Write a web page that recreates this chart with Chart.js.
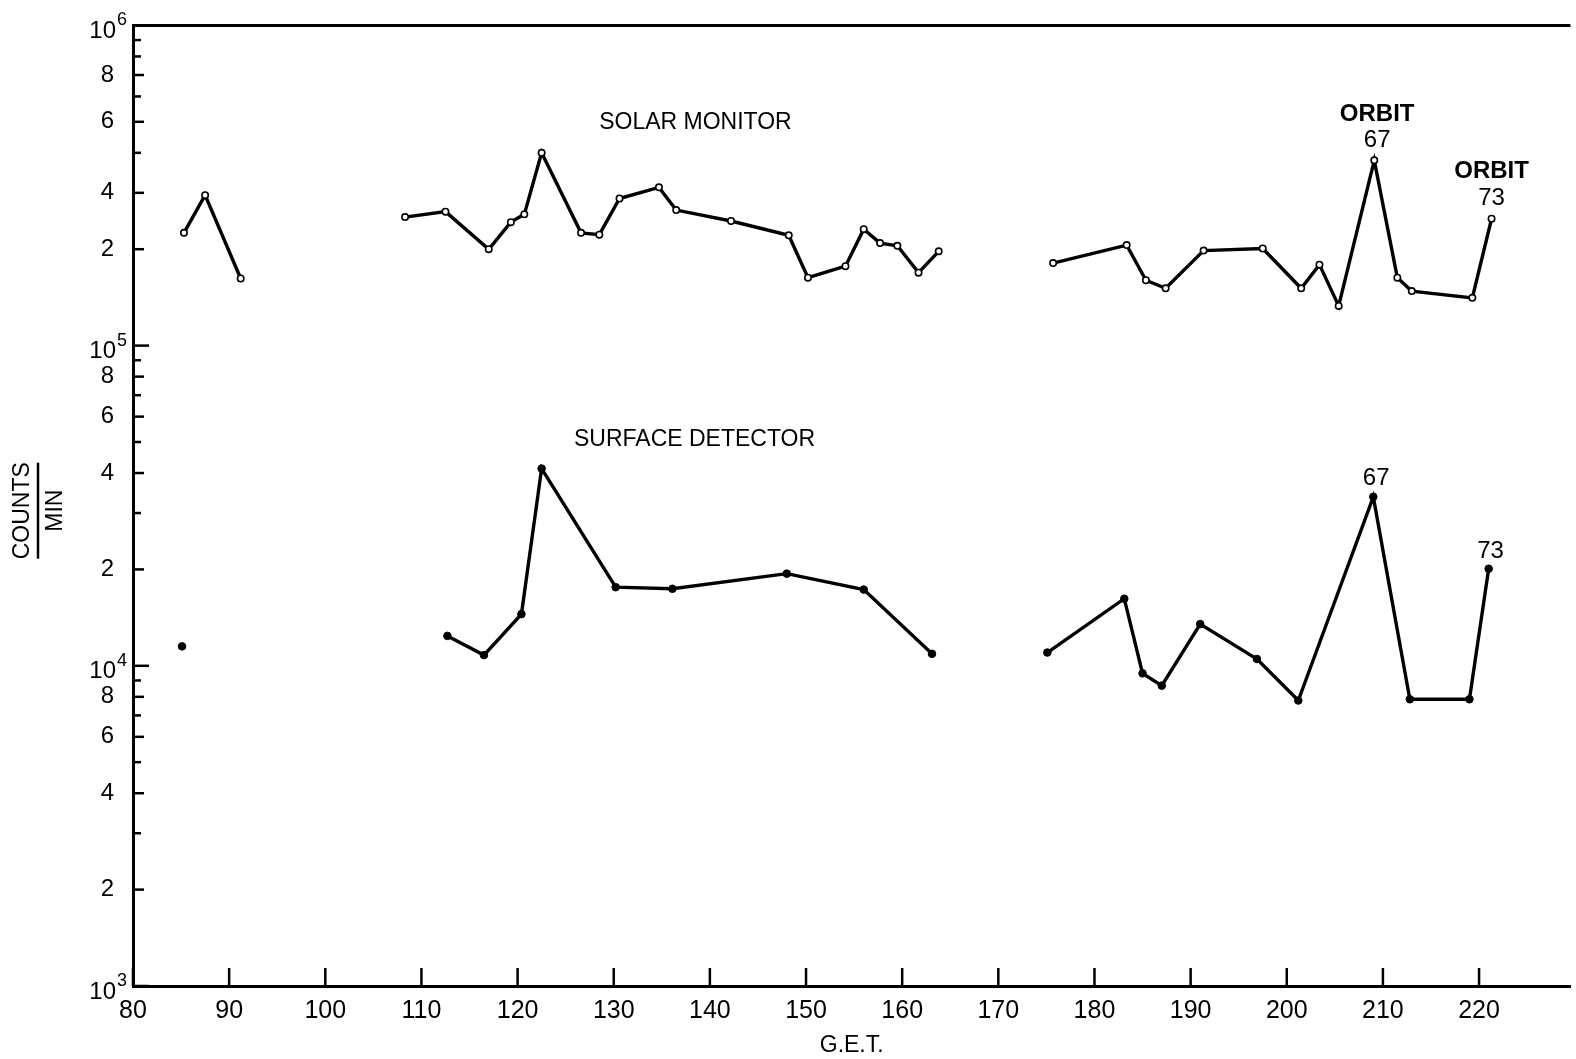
<!DOCTYPE html>
<html><head><meta charset="utf-8">
<script src="https://cdn.jsdelivr.net/npm/chart.js@4/dist/chart.umd.min.js"></script>
<style>html,body{margin:0;padding:0;background:#fff;overflow:hidden}</style>
</head><body>
<canvas id="c" width="1576" height="1059"></canvas>
<script>
// ---- data (G.E.T. hours, counts/min) ----
const solarX     = [85.3, 87.5, 91.2,
  108.3, 112.5, 117.0, 119.3, 120.7, 122.5, 126.6, 128.5, 130.6, 134.7, 136.5, 142.2, 148.2, 150.2, 154.1, 156.0, 157.7, 159.5, 161.7, 163.8,
  175.7, 183.35, 185.35, 187.4, 191.35, 197.5, 201.5, 203.4, 205.4, 209.1, 211.5, 213.0, 219.3, 221.3];
const solarY     = [2.25e5, 2.95e5, 1.62e5,
  2.52e5, 2.62e5, 2.0e5, 2.43e5, 2.57e5, 4.0e5, 2.25e5, 2.22e5, 2.88e5, 3.12e5, 2.65e5, 2.45e5, 2.21e5, 1.63e5, 1.77e5, 2.31e5, 2.09e5, 2.05e5, 1.69e5, 1.97e5,
  1.81e5, 2.06e5, 1.60e5, 1.51e5, 1.98e5, 2.01e5, 1.51e5, 1.79e5, 1.33e5, 3.79e5, 1.63e5, 1.48e5, 1.41e5, 2.49e5];
const solarGroup = [0,0,0,
  1,1,1,1,1,1,1,1,1,1,1,1,1,1,1,1,1,1,1,1,
  2,2,2,2,2,2,2,2,2,2,2,2,2,2];

const surfaceX     = [85.1,
  112.7, 116.5, 120.4, 122.5, 130.2, 136.1, 148.0, 156.0, 163.1,
  175.1, 183.1, 185.0, 187.0, 191.0, 196.9, 201.2, 209.0, 212.8, 219.0, 221.0];
const surfaceY     = [1.15e4,
  1.24e4, 1.08e4, 1.45e4, 4.13e4, 1.76e4, 1.74e4, 1.94e4, 1.73e4, 1.09e4,
  1.10e4, 1.62e4, 9.47e3, 8.67e3, 1.35e4, 1.05e4, 7.79e3, 3.37e4, 7.86e3, 7.86e3, 2.01e4];
const surfaceGroup = [0, 1,1,1,1,1,1,1,1,1, 2,2,2,2,2,2,2,2,2,2,2];

// ---- axes / tick labels ----
const xTickValues   = [80, 90, 100, 110, 120, 130, 140, 150, 160, 170, 180, 190, 200, 210, 220];
const yLabelValues  = [2e3, 4e3, 6e3, 8e3, 2e4, 4e4, 6e4, 8e4, 2e5, 3e5, 5e5, 7e5];
const yLabelTexts   = ['2','4','6','8','2','4','6','8','2','4','6','8'];
const yDecades      = [1e3, 1e4, 1e5, 1e6];
const yDecadeExps   = ['3', '4', '5', '6'];
const yMantissas    = [2, 3, 4, 5, 6, 7, 8, 9];

// ---- text notes (anchored in data units) ----
const notes = [
  {text:'SOLAR MONITOR',    x:138.5, y:4.96e5, size:23, bold:false},
  {text:'SURFACE DETECTOR', x:138.4, y:5.07e4, size:23, bold:false},
  {text:'ORBIT', x:209.4, y:5.29e5, size:24, bold:true},
  {text:'67',    x:209.4, y:4.36e5, size:24, bold:false},
  {text:'ORBIT', x:221.3, y:3.50e5, size:24, bold:true},
  {text:'73',    x:221.3, y:2.88e5, size:24, bold:false},
  {text:'67',    x:209.3, y:3.86e4, size:24, bold:false},
  {text:'73',    x:221.2, y:2.28e4, size:24, bold:false}
];

const FONT = '"Liberation Sans", Arial, sans-serif';
Chart.defaults.font.family = FONT;
Chart.defaults.color = '#000';

function buildSets(xs, ys, gs, style) {
  const groups = [...new Set(gs)];
  return groups.map(g => ({
    data: xs.map((x, i) => ({x, y: ys[i], g: gs[i]})).filter(p => p.g === g),
    ...style
  }));
}

const solarStyle = {borderColor:'#000', borderWidth:3.4, pointRadius:3.2, pointBackgroundColor:'#fff',
  pointBorderColor:'#000', pointBorderWidth:1.6, tension:0, showLine:true, fill:false};
const surfaceStyle = {borderColor:'#000', borderWidth:3.4, pointRadius:3.8, pointBackgroundColor:'#000',
  pointBorderColor:'#000', pointBorderWidth:1, tension:0, showLine:true, fill:false};

const datasets = [
  ...buildSets(solarX, solarY, solarGroup, solarStyle),
  ...buildSets(surfaceX, surfaceY, surfaceGroup, surfaceStyle)
];

const decor = {
  id: 'decor',
  afterDraw(chart) {
    const {ctx, chartArea: a} = chart;
    const xs = chart.scales.x, ys = chart.scales.y;
    ctx.save();
    ctx.strokeStyle = '#000';
    // top frame line
    ctx.lineWidth = 3;
    ctx.beginPath(); ctx.moveTo(a.left, a.top); ctx.lineTo(a.right, a.top); ctx.stroke();
    // y ticks (pointing inward)
    ctx.lineWidth = 2.5;
    yDecades.slice(0, 3).forEach(d => {
      yMantissas.forEach(m => {
        const v = d * m;
        const p = ys.getPixelForValue(v);
        const labeled = yLabelValues.includes(v);
        const len = labeled ? 11 : 8;
        ctx.beginPath(); ctx.moveTo(a.left, p); ctx.lineTo(a.left + len, p); ctx.stroke();
      });
    });
    yDecades.forEach(v => {
      const p = ys.getPixelForValue(v);
      ctx.beginPath(); ctx.moveTo(a.left, p); ctx.lineTo(a.left + 16, p); ctx.stroke();
    });
    // decade labels 10^n
    ctx.fillStyle = '#000';
    ctx.textBaseline = 'middle';
    yDecades.forEach((v, i) => {
      const p = ys.getPixelForValue(v);
      ctx.textAlign = 'right';
      ctx.font = '24px ' + FONT;
      ctx.fillText('10', a.left - 17, p + 6);
      ctx.textAlign = 'left';
      ctx.font = '18px ' + FONT;
      ctx.fillText(yDecadeExps[i], a.left - 16, p - 5);
    });
    // x ticks (pointing up)
    xTickValues.forEach(v => {
      const p = xs.getPixelForValue(v);
      ctx.beginPath(); ctx.moveTo(p, a.bottom); ctx.lineTo(p, a.bottom - 18); ctx.stroke();
    });
    // notes
    ctx.textAlign = 'center';
    notes.forEach(n => {
      ctx.font = (n.bold ? 'bold ' : '') + n.size + 'px ' + FONT;
      ctx.fillText(n.text, xs.getPixelForValue(n.x), ys.getPixelForValue(n.y));
    });
    // y axis title: COUNTS / MIN (rotated fraction)
    const cy = (a.top + a.bottom) / 2 + 5;
    ctx.translate(38, cy);
    ctx.rotate(-Math.PI / 2);
    ctx.font = '23px ' + FONT;
    ctx.fillText('COUNTS', 0, -15);
    ctx.fillText('MIN', 0, 18);
    ctx.lineWidth = 2.5;
    ctx.beginPath(); ctx.moveTo(-48, 0); ctx.lineTo(48, 0); ctx.stroke();
    ctx.restore();
  }
};

new Chart(document.getElementById('c'), {
  type: 'line',
  data: {datasets},
  options: {
    responsive: false,
    animation: false,
    devicePixelRatio: 1,
    layout: {padding: {top: 20, right: 0, left: 0, bottom: 0}},
    plugins: {legend: {display: false}, tooltip: {enabled: false}},
    scales: {
      x: {
        type: 'linear', min: 80, max: 229.5,
        grid: {display: false},
        border: {display: true, color: '#000', width: 3},
        afterBuildTicks: s => { s.ticks = xTickValues.map(v => ({value: v})); },
        afterFit: s => { s.height = 73; },
        ticks: {autoSkip: false, maxRotation: 0, padding: 2, font: {size: 25},
          callback: v => String(v)},
        title: {display: true, text: 'G.E.T.', font: {size: 23}, padding: {top: 0, bottom: 0}}
      },
      y: {
        type: 'logarithmic', min: 1e3, max: 1e6,
        grid: {display: false},
        border: {display: true, color: '#000', width: 3},
        afterBuildTicks: s => { s.ticks = yLabelValues.map(v => ({value: v})); },
        afterFit: s => { s.width = 133; },
        ticks: {autoSkip: false, padding: 11, font: {size: 24},
          callback: (v, i) => yLabelTexts[i]}
      }
    }
  },
  plugins: [decor]
});
</script>
</body></html>
